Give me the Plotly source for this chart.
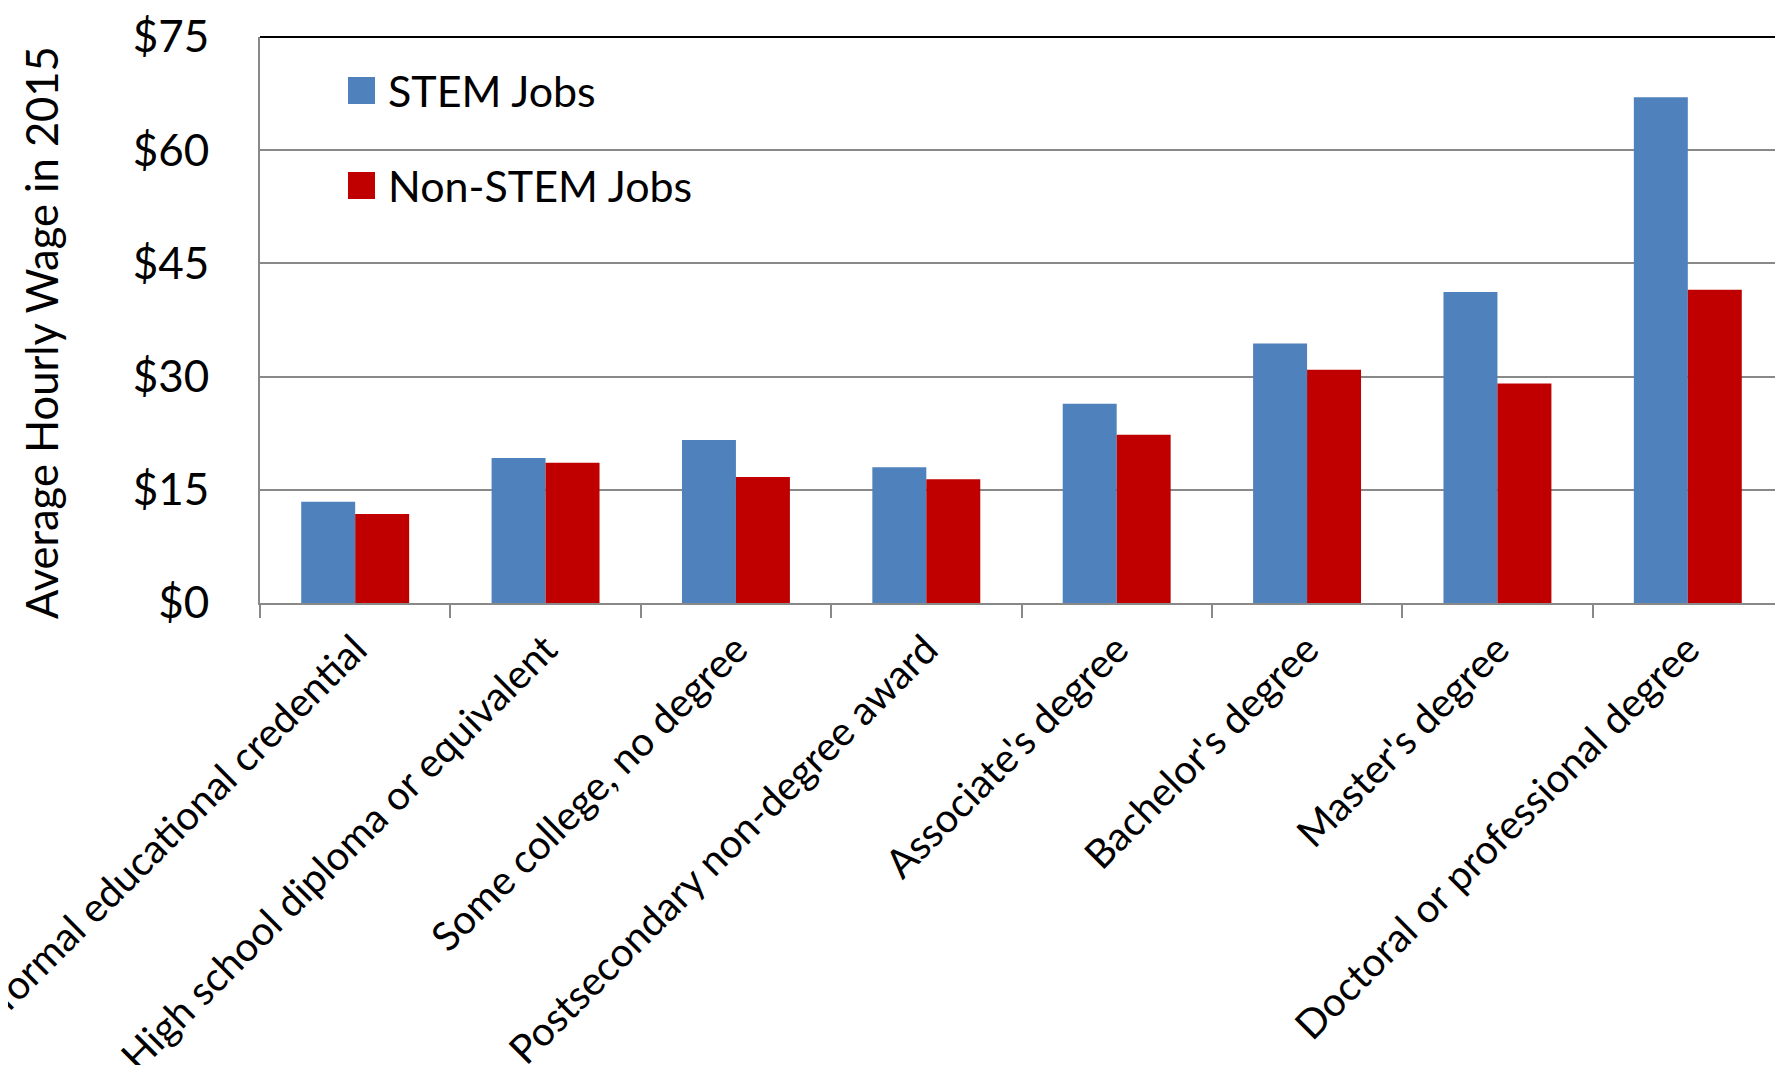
import plotly.graph_objects as go

categories = [
    "No formal educational credential",
    "High school diploma or equivalent",
    "Some college, no degree",
    "Postsecondary non-degree award",
    "Associate's degree",
    "Bachelor's degree",
    "Master's degree",
    "Doctoral or professional degree",
]
stem_wages = [13.4, 19.2, 21.6, 18.0, 26.4, 34.4, 41.2, 67.0]
non_stem_wages = [11.8, 18.6, 16.7, 16.4, 22.3, 30.9, 29.1, 41.5]
series_names = ["STEM Jobs", "Non-STEM Jobs"]
series_colors = ["#4F81BD", "#C00000"]
y_tick_values = [0, 15, 30, 45, 60, 75]
y_tick_labels = ["$0", "$15", "$30", "$45", "$60", "$75"]
y_title = "Average Hourly Wage in 2015"

FONT = "Lato"
GRAY = "#898989"

W, H = 1783, 1065
ML, MR, MT, MB = 252, 8, 29, 470
PW, PH = W - ML - MR, H - MT - MB


def px_to_paper_x(px):
    return (px - ML) / PW


def px_to_paper_y(py):
    return (H - MB - py) / PH


fig = go.Figure()
for name, vals, col in zip(series_names, [stem_wages, non_stem_wages], series_colors):
    fig.add_trace(go.Bar(
        x=categories, y=vals, name=name,
        marker=dict(color=col, line=dict(width=0)),
        showlegend=False,
    ))

# Legend drawn as large squares + text (matching the reference's big swatches)
legend_shapes = []
legend_annots = []
legend_rows_y = [82.5, 177.5]  # vertical centers of legend rows (px)
for name, col, cy in zip(series_names, series_colors, legend_rows_y):
    legend_shapes.append(dict(
        type="rect", xref="paper", yref="paper",
        x0=px_to_paper_x(340), x1=px_to_paper_x(367),
        y0=px_to_paper_y(cy + 13.5), y1=px_to_paper_y(cy - 13.5),
        fillcolor=col, line=dict(width=0),
    ))
    legend_annots.append(dict(
        text=name, xref="paper", yref="paper",
        x=px_to_paper_x(378), y=px_to_paper_y(cy),
        xanchor="left", yanchor="middle", showarrow=False,
        font=dict(size=43, family=FONT, color="black"),
    ))

fig.update_layout(
    width=W, height=H,
    margin=dict(l=ML, r=MR, t=MT, b=MB),
    paper_bgcolor="white", plot_bgcolor="white",
    barmode="group", bargap=0.433, bargroupgap=0,
    font=dict(family=FONT, color="black"),
    showlegend=False,
    xaxis=dict(
        type="category",
        tickson="boundaries", ticks="outside", ticklen=13,
        tickcolor=GRAY, tickwidth=2,
        showline=True, linecolor=GRAY, linewidth=2,
        tickangle=-45,
        ticklabelstandoff=5,
        tickfont=dict(size=40, family=FONT, color="black"),
        showgrid=False, automargin=False,
    ),
    yaxis=dict(
        range=[0, 75], tickmode="array",
        tickvals=y_tick_values, ticktext=y_tick_labels,
        showgrid=True, gridcolor=GRAY, gridwidth=2,
        showline=True, linecolor=GRAY, linewidth=2,
        zeroline=False, ticks="",
        ticklabelstandoff=40,
        tickfont=dict(size=44, family=FONT, color="black"),
        automargin=False,
    ),
    shapes=[
        dict(type="line", xref="paper", yref="paper", x0=0, x1=1, y0=1, y1=1,
             line=dict(color="black", width=2)),
        dict(type="line", xref="paper", yref="paper", x0=1, x1=1, y0=0, y1=1,
             line=dict(color="black", width=2.5)),
    ] + legend_shapes,
    annotations=[
        dict(text=y_title, xref="paper", yref="paper",
             x=px_to_paper_x(33), y=px_to_paper_y(325),
             xanchor="center", yanchor="middle", textangle=-90, showarrow=False,
             font=dict(size=43.5, family=FONT, color="black")),
    ] + legend_annots,
)

fig.write_html("out.html")
